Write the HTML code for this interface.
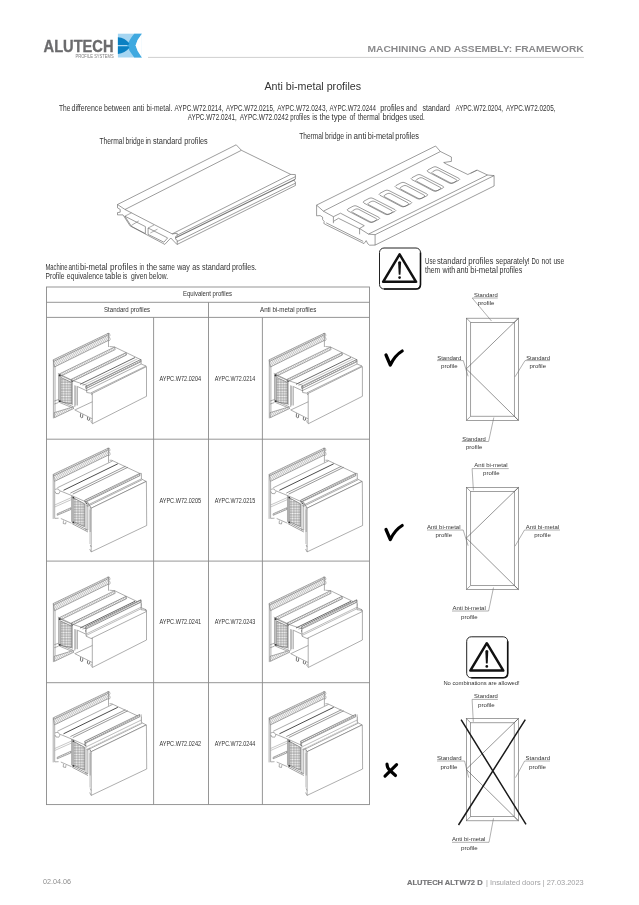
<!DOCTYPE html>
<html><head><meta charset="utf-8"><style>
html,body{margin:0;padding:0;background:#fff;width:639px;height:905px;overflow:hidden}
svg{position:absolute;left:0;top:0;display:block;will-change:transform}
text{font-family:"Liberation Sans",sans-serif}
.t{fill:#333}
.ln{stroke:#555;stroke-width:0.7;fill:none}
.tb{stroke:#8a8a8a;stroke-width:0.9;fill:none}
.fr{stroke:#6e6e6e;stroke-width:0.65;fill:none}
.ld{stroke:#707070;stroke-width:0.55;fill:none}
</style></head><body>
<svg width="639" height="905" viewBox="0 0 639 905">
<defs>
<pattern id="hatch" patternUnits="userSpaceOnUse" width="1.6" height="6" patternTransform="rotate(28)">
  <rect width="1.6" height="6" fill="#f8f8f8"/>
  <line x1="0.4" y1="0" x2="0.4" y2="6" stroke="#a8a8a8" stroke-width="0.6"/>
</pattern>
<pattern id="hatch3" patternUnits="userSpaceOnUse" width="1.3" height="4" patternTransform="rotate(28)">
  <rect width="1.3" height="4" fill="#f4f4f4"/>
  <line x1="0.3" y1="0" x2="0.3" y2="4" stroke="#8a8a8a" stroke-width="0.6"/>
</pattern>
<pattern id="perf" patternUnits="userSpaceOnUse" width="2.6" height="2.6">
  <rect width="2.6" height="2.6" fill="#ababab"/>
  <circle cx="1.3" cy="1.3" r="0.95" fill="#f8f8f8"/>
</pattern>












</defs>

<!-- HEADER -->
<text x="43.6" y="52" font-size="16.9" font-weight="bold" fill="#6b6b6d" stroke="#6b6b6d" stroke-width="0.35" textLength="69.9" lengthAdjust="spacingAndGlyphs">ALUTECH</text>
<text x="75.5" y="57.7" font-size="4.5" fill="#7a7a7c" textLength="38.2" lengthAdjust="spacingAndGlyphs">PROFILE SYSTEMS</text>
<g>
  <rect x="117.9" y="33.7" width="24" height="23.8" fill="#a6d6f2"/>
  <path d="M141.9,33.7 L134.2,33.7 Q129,40 127.2,45.6 Q129,51.5 134.2,57.5 L141.9,57.5 Q137,51.5 135.6,45.6 Q137,39.5 141.9,33.7 Z" fill="#3fa9e0"/>
  <path d="M141.9,33.7 L141.9,57.5 Q137,51.5 135.6,45.6 Q137,39.5 141.9,33.7 Z" fill="#fff"/>
  <path d="M117.9,37.3 Q125,37.8 129.4,43.5 L128.3,44.9 L117.9,44.9 Z" fill="#0a80c2"/>
  <path d="M117.9,46.3 L128.3,46.3 L129.4,47.7 Q125,53.3 117.9,53.9 Z" fill="#0a80c2"/>
</g>
<text x="367.5" y="52.4" font-size="9.7" font-weight="bold" fill="#8a8a8c" textLength="216.2" lengthAdjust="spacingAndGlyphs">MACHINING AND ASSEMBLY: FRAMEWORK</text>
<line x1="148" y1="57.4" x2="584" y2="57.4" stroke="#cfcfcf" stroke-width="1"/>

<!-- TITLE & INTRO -->
<text class="t" x="264.4" y="89.6" font-size="11.2" textLength="96.7" lengthAdjust="spacingAndGlyphs">Anti bi-metal profiles</text>
<g class="t" font-size="9.1">
<text x="59.0" y="110.6" textLength="11.4" lengthAdjust="spacingAndGlyphs">The</text>
<text x="71.5" y="110.6" textLength="30.8" lengthAdjust="spacingAndGlyphs">difference</text>
<text x="104.0" y="110.6" textLength="26.5" lengthAdjust="spacingAndGlyphs">between</text>
<text x="132.7" y="110.6" textLength="11.5" lengthAdjust="spacingAndGlyphs">anti</text>
<text x="146.5" y="110.6" textLength="25.8" lengthAdjust="spacingAndGlyphs">bi-metal.</text>
<text x="174.6" y="110.6" textLength="49.0" lengthAdjust="spacingAndGlyphs">AYPC.W72.0214,</text>
<text x="225.9" y="110.6" textLength="48.9" lengthAdjust="spacingAndGlyphs">AYPC.W72.0215,</text>
<text x="277.2" y="110.6" textLength="50.1" lengthAdjust="spacingAndGlyphs">AYPC.W72.0243,</text>
<text x="329.6" y="110.6" textLength="46.4" lengthAdjust="spacingAndGlyphs">AYPC.W72.0244</text>
<text x="380.2" y="110.6" textLength="24.0" lengthAdjust="spacingAndGlyphs">profiles</text>
<text x="405.9" y="110.6" textLength="11.0" lengthAdjust="spacingAndGlyphs">and</text>
<text x="422.4" y="110.6" textLength="27.6" lengthAdjust="spacingAndGlyphs">standard</text>
<text x="455.5" y="110.6" textLength="47.5" lengthAdjust="spacingAndGlyphs">AYPC.W72.0204,</text>
<text x="505.9" y="110.6" textLength="49.6" lengthAdjust="spacingAndGlyphs">AYPC.W72.0205,</text>
</g>
<g class="t" font-size="9.1">
<text x="187.7" y="120.3" textLength="49.0" lengthAdjust="spacingAndGlyphs">AYPC.W72.0241,</text>
<text x="239.7" y="120.3" textLength="48.9" lengthAdjust="spacingAndGlyphs">AYPC.W72.0242</text>
<text x="290.3" y="120.3" textLength="19.5" lengthAdjust="spacingAndGlyphs">profiles</text>
<text x="312.2" y="120.3" textLength="5.2" lengthAdjust="spacingAndGlyphs">is</text>
<text x="319.6" y="120.3" textLength="10.3" lengthAdjust="spacingAndGlyphs">the</text>
<text x="331.6" y="120.3" textLength="15.1" lengthAdjust="spacingAndGlyphs">type</text>
<text x="349.5" y="120.3" textLength="5.7" lengthAdjust="spacingAndGlyphs">of</text>
<text x="357.9" y="120.3" textLength="21.9" lengthAdjust="spacingAndGlyphs">thermal</text>
<text x="382.6" y="120.3" textLength="24.7" lengthAdjust="spacingAndGlyphs">bridges</text>
<text x="409.3" y="120.3" textLength="15.6" lengthAdjust="spacingAndGlyphs">used.</text>
</g>

<g class="t" font-size="8.5">
<text x="99.4" y="143.8" textLength="24.7" lengthAdjust="spacingAndGlyphs">Thermal</text>
<text x="125.6" y="143.8" textLength="18.7" lengthAdjust="spacingAndGlyphs">bridge</text>
<text x="145.4" y="143.8" textLength="5.5" lengthAdjust="spacingAndGlyphs">in</text>
<text x="153.1" y="143.8" textLength="28.8" lengthAdjust="spacingAndGlyphs">standard</text>
<text x="184.3" y="143.8" textLength="23.4" lengthAdjust="spacingAndGlyphs">profiles</text>
</g>
<g class="t" font-size="8.5">
<text x="299.2" y="139.2" textLength="24.2" lengthAdjust="spacingAndGlyphs">Thermal</text>
<text x="325.1" y="139.2" textLength="19.1" lengthAdjust="spacingAndGlyphs">bridge</text>
<text x="346.0" y="139.2" textLength="5.8" lengthAdjust="spacingAndGlyphs">in</text>
<text x="353.6" y="139.2" textLength="13.0" lengthAdjust="spacingAndGlyphs">anti</text>
<text x="367.8" y="139.2" textLength="26.2" lengthAdjust="spacingAndGlyphs">bi-metal</text>
<text x="395.3" y="139.2" textLength="23.7" lengthAdjust="spacingAndGlyphs">profiles</text>
</g>

<g class="t" font-size="8.2">
<text x="45.5" y="269.7" textLength="22.1" lengthAdjust="spacingAndGlyphs">Machine</text>
<text x="68.6" y="269.7" textLength="10.2" lengthAdjust="spacingAndGlyphs">anti</text>
<text x="79.9" y="269.7" textLength="27.7" lengthAdjust="spacingAndGlyphs">bi-metal</text>
<text x="109.9" y="269.7" textLength="27.4" lengthAdjust="spacing">profiles</text>
<text x="139.6" y="269.7" textLength="4.6" lengthAdjust="spacingAndGlyphs">in</text>
<text x="146.5" y="269.7" textLength="10.8" lengthAdjust="spacingAndGlyphs">the</text>
<text x="159.0" y="269.7" textLength="15.8" lengthAdjust="spacingAndGlyphs">same</text>
<text x="177.2" y="269.7" textLength="12.7" lengthAdjust="spacingAndGlyphs">way</text>
<text x="192.2" y="269.7" textLength="7.6" lengthAdjust="spacingAndGlyphs">as</text>
<text x="202.1" y="269.7" textLength="28.3" lengthAdjust="spacingAndGlyphs">standard</text>
<text x="232.1" y="269.7" textLength="24.6" lengthAdjust="spacingAndGlyphs">profiles.</text>
</g>
<g class="t" font-size="8.2">
<text x="45.5" y="279.4" textLength="18.9" lengthAdjust="spacingAndGlyphs">Profile</text>
<text x="66.8" y="279.4" textLength="36.4" lengthAdjust="spacingAndGlyphs">equivalence</text>
<text x="104.9" y="279.4" textLength="16.5" lengthAdjust="spacingAndGlyphs">table</text>
<text x="122.7" y="279.4" textLength="4.6" lengthAdjust="spacingAndGlyphs">is</text>
<text x="130.9" y="279.4" textLength="16.4" lengthAdjust="spacingAndGlyphs">given</text>
<text x="149.0" y="279.4" textLength="19.0" lengthAdjust="spacingAndGlyphs">below.</text>
</g>


<!-- THERMAL BRIDGE: standard -->
<g fill="none" stroke="#5a5a5a" stroke-width="0.6" stroke-linejoin="round">
 <path d="M117.5,204.5 L117.5,207.8 L120.2,209.4 L120.2,212.2 L117.5,212.6 L117.5,214.9 L123,214.9 L130.1,225.9 L164.8,244.4 L170.8,238 L176.9,244.4 L177.2,244.4 L177.2,240.2 L175.6,239.2 L175.6,236.6 L177.2,235.5 L177.2,233.3 L172.2,233.9 L125,209.5 Z"/>
 <path d="M124.8,216.2 L145.4,226.6 L145.4,233.6 L131.4,226.3 Z"/>
 <path d="M148.1,228 L167.6,237.9 L163.9,242.2 L148.1,234.4 Z"/>
 <path d="M131.4,225.4 L138.8,220.9 M150.3,233 L157.5,229.1 M124.8,216.2 L131.5,212.8 M148.1,228 L154,225" stroke-width="0.5"/>
 <path d="M117.5,204.5 L236.2,144.8 L241.4,150.3 L290.7,174.4 L295.4,174.6 L295.4,179.1 L293.7,180.3 L295.4,182 L295.4,185.5"/>
 <path d="M125,209.5 L241.4,150.3"/>
 <path d="M172.2,233.9 L290.7,174.4"/>
 <path d="M177.2,235.2 L295.4,176.7 M177.2,241.5 L295.4,183.2 M177.2,244.4 L295.4,185.5"/>
 <path d="M175.6,237.8 L295,179.4" stroke-width="1.1" stroke="#777"/>
</g>
<!-- THERMAL BRIDGE: anti bi-metal -->
<g fill="none" stroke="#5a5a5a" stroke-width="0.6" stroke-linejoin="round">
 <path d="M316.6,205.1 L435.6,146 L440.4,151.5 L451.4,157 L451.4,161.4 L443.7,162.5 L446.4,164.1 L467.8,174.5 L477.1,170.1 L487.5,175 L494.1,175.6 L494.1,186"/>
 <path d="M323.4,211.2 L440.4,151.5"/>
 <path d="M316.6,205.1 L323.4,211.2 L333.4,216.7 L333.4,221.4 M333.4,216.7 L340.5,213.2 L364.3,225.7 L359.6,228.5 L359.6,234.3 M333.4,221.4 L338.5,218.3 L359.6,228.8"/>
 <path d="M316.6,205.1 L316.6,215.8 L320.2,215.6 L322.6,217.2 L322.6,219.5 L324.2,221.5 L323.8,223.4 L326.2,224.8 L364,243.6 L366.2,240.6 L367.8,243.8 L369.6,245.2 L375.1,245.1 L375.1,234.7 L368.5,234.1 L359.6,228.5"/>
 <path d="M326.2,222.8 L363.2,241.4 M333.4,221.4 L333.4,223.2"/>
 <path d="M368.5,234.1 L487.5,175 M375.1,234.7 L494.1,175.6 M375.1,245.1 L494.1,186"/>
 <path d="M477.1,170.1 L470.5,173.4" stroke-width="0.5"/>
 <path d="M348.0,208.9 L353.1,206.2 Q355.0,205.2 357.0,206.2 L378.8,217.3 Q380.8,218.3 378.8,219.3 L373.0,222.0 Q371.0,223.0 369.1,222.0 L348.0,210.9 Q346.1,209.9 348.0,208.9 Z"/>
 <path d="M352.7,210.7 L355.2,209.3 Q357.0,208.4 358.7,209.3 L376.1,218.5 Q377.9,219.4 376.1,220.3 L373.6,221.7 Q371.8,222.6 370.1,221.7 L352.7,212.5 Q350.9,211.6 352.7,210.7 Z"/>
 <path d="M364.0,201.1 L369.1,198.4 Q371.0,197.4 373.0,198.4 L394.8,209.5 Q396.8,210.5 394.8,211.5 L389.0,214.2 Q387.0,215.2 385.1,214.2 L364.0,203.1 Q362.1,202.1 364.0,201.1 Z"/>
 <path d="M368.7,202.9 L371.2,201.5 Q373.0,200.6 374.7,201.5 L392.1,210.7 Q393.9,211.6 392.1,212.5 L389.6,213.9 Q387.8,214.8 386.1,213.9 L368.7,204.7 Q366.9,203.8 368.7,202.9 Z"/>
 <path d="M380.0,193.3 L385.1,190.6 Q387.0,189.6 389.0,190.6 L410.8,201.7 Q412.8,202.7 410.8,203.7 L405.0,206.4 Q403.0,207.4 401.1,206.4 L380.0,195.3 Q378.1,194.3 380.0,193.3 Z"/>
 <path d="M384.7,195.1 L387.2,193.7 Q389.0,192.8 390.7,193.7 L408.1,202.9 Q409.9,203.8 408.1,204.7 L405.6,206.1 Q403.8,207.0 402.1,206.1 L384.7,196.9 Q382.9,196.0 384.7,195.1 Z"/>
 <path d="M396.0,185.5 L401.1,182.8 Q403.0,181.8 405.0,182.8 L426.8,193.9 Q428.8,194.9 426.8,195.9 L421.0,198.6 Q419.0,199.6 417.1,198.6 L396.0,187.5 Q394.1,186.5 396.0,185.5 Z"/>
 <path d="M400.7,187.3 L403.2,185.9 Q405.0,185.0 406.7,185.9 L424.1,195.1 Q425.9,196.0 424.1,196.9 L421.6,198.3 Q419.8,199.2 418.1,198.3 L400.7,189.1 Q398.9,188.2 400.7,187.3 Z"/>
 <path d="M412.0,177.7 L417.1,175.0 Q419.0,174.0 421.0,175.0 L442.8,186.1 Q444.8,187.1 442.8,188.1 L437.0,190.8 Q435.0,191.8 433.1,190.8 L412.0,179.7 Q410.1,178.7 412.0,177.7 Z"/>
 <path d="M416.7,179.5 L419.2,178.1 Q421.0,177.2 422.7,178.1 L440.1,187.3 Q441.9,188.2 440.1,189.1 L437.6,190.5 Q435.8,191.4 434.1,190.5 L416.7,181.3 Q414.9,180.4 416.7,179.5 Z"/>
 <path d="M428.0,169.9 L433.1,167.2 Q435.0,166.2 437.0,167.2 L458.8,178.3 Q460.8,179.3 458.8,180.3 L453.0,183.0 Q451.0,184.0 449.1,183.0 L428.0,171.9 Q426.1,170.9 428.0,169.9 Z"/>
 <path d="M432.7,171.7 L435.2,170.3 Q437.0,169.4 438.7,170.3 L456.1,179.5 Q457.9,180.4 456.1,181.3 L453.6,182.7 Q451.8,183.6 450.1,182.7 L432.7,173.5 Q430.9,172.6 432.7,171.7 Z"/>
</g>
<!-- WARNING 1 -->
<g transform="translate(379,247.5)">
  <rect x="0.5" y="0.5" width="41" height="41" rx="4.5" fill="#fff" stroke="#222" stroke-width="1"/>
  <path d="M41.5,5 L41.5,37 Q41.5,41.5 37,41.5 L5,41.5" fill="none" stroke="#111" stroke-width="1.6"/>
  <path d="M20.6,6.9 L37.1,34.3 L4.1,34.3 Z" fill="none" stroke="#111" stroke-width="2.5" stroke-linejoin="round"/>
  <path d="M19.1,14.6 Q20.6,12.9 22.1,14.6 L21.5,26.9 Q20.6,27.6 19.7,26.9 Z" fill="#111"/>
  <circle cx="20.6" cy="30.1" r="1.35" fill="#111"/>
</g>
<g class="t" font-size="8.8">
<text x="425.1" y="263.8" textLength="10.8" lengthAdjust="spacingAndGlyphs">Use</text>
<text x="437.0" y="263.8" textLength="29.6" lengthAdjust="spacingAndGlyphs">standard</text>
<text x="468.3" y="263.8" textLength="25.2" lengthAdjust="spacingAndGlyphs">profiles</text>
<text x="495.8" y="263.8" textLength="34.0" lengthAdjust="spacingAndGlyphs">separately!</text>
<text x="531.5" y="263.8" textLength="7.7" lengthAdjust="spacingAndGlyphs">Do</text>
<text x="541.5" y="263.8" textLength="9.6" lengthAdjust="spacingAndGlyphs">not</text>
<text x="553.4" y="263.8" textLength="10.8" lengthAdjust="spacingAndGlyphs">use</text>
</g>
<g class="t" font-size="8.8">
<text x="425.1" y="273.3" textLength="15.2" lengthAdjust="spacingAndGlyphs">them</text>
<text x="442.6" y="273.3" textLength="12.7" lengthAdjust="spacingAndGlyphs">with</text>
<text x="456.4" y="273.3" textLength="12.1" lengthAdjust="spacingAndGlyphs">anti</text>
<text x="470.2" y="273.3" textLength="27.7" lengthAdjust="spacingAndGlyphs">bi-metal</text>
<text x="499.6" y="273.3" textLength="22.7" lengthAdjust="spacingAndGlyphs">profiles</text>
</g>

<!-- TABLE -->
<g class="tb">
  <rect x="46.5" y="287" width="323" height="517.6"/>
  <line x1="46.5" y1="302.3" x2="369.5" y2="302.3"/>
  <line x1="46.5" y1="317.4" x2="369.5" y2="317.4"/>
  <line x1="46.5" y1="439.2" x2="369.5" y2="439.2"/>
  <line x1="46.5" y1="561.1" x2="369.5" y2="561.1"/>
  <line x1="46.5" y1="682.7" x2="369.5" y2="682.7"/>
  <line x1="208.5" y1="302.3" x2="208.5" y2="804.6"/>
  <line x1="153.6" y1="317.4" x2="153.6" y2="804.6"/>
  <line x1="262.4" y1="317.4" x2="262.4" y2="804.6"/>
</g>
<text class="t" x="182.9" y="296.4" font-size="6.8" textLength="49.1" lengthAdjust="spacingAndGlyphs">Equivalent profiles</text>
<text class="t" x="104" y="311.5" font-size="7.4" textLength="46.1" lengthAdjust="spacingAndGlyphs">Standard profiles</text>
<text class="t" x="260" y="311.7" font-size="7.4" textLength="56.3" lengthAdjust="spacingAndGlyphs">Anti bi-metal profiles</text>

<g class="t" font-size="7.1">
<text x="159.4" y="380.6" textLength="41.7" lengthAdjust="spacingAndGlyphs">AYPC.W72.0204</text>
<text x="214.8" y="380.6" textLength="40.4" lengthAdjust="spacingAndGlyphs">AYPC.W72.0214</text>
<text x="159.4" y="502.6" textLength="41.7" lengthAdjust="spacingAndGlyphs">AYPC.W72.0205</text>
<text x="214.8" y="502.6" textLength="40.4" lengthAdjust="spacingAndGlyphs">AYPC.W72.0215</text>
<text x="159.4" y="624.2" textLength="41.7" lengthAdjust="spacingAndGlyphs">AYPC.W72.0241</text>
<text x="214.8" y="624.2" textLength="40.4" lengthAdjust="spacingAndGlyphs">AYPC.W72.0243</text>
<text x="159.4" y="746.1" textLength="41.7" lengthAdjust="spacingAndGlyphs">AYPC.W72.0242</text>
<text x="214.8" y="746.1" textLength="40.4" lengthAdjust="spacingAndGlyphs">AYPC.W72.0244</text>
</g>



<!-- PROFILE IMAGES -->
<g transform="translate(0,0)" fill="none" stroke="#6a6a6a" stroke-width="0.55" stroke-linejoin="round">
 <!-- back wall -->
 <path d="M53.4,359.8 L53.4,418.4 M55,366 L55,417.5"/>
 <!-- fin band -->
 <path d="M53.2,359.8 L108.5,333.2 L108.5,340.4 L54.5,367 Z" fill="url(#hatch)"/>
 <path d="M53.6,361.4 L108.5,334.8"/>
 <path d="M108.5,340.4 L108.5,347"/>
 <path d="M107.3,333.5 Q110.2,332.6 110,335.2 Q109.8,336.5 108.7,336.9 Q110.4,337.5 110.1,339.5 Q109.8,341 108.4,340.8" stroke="#777"/>
 <!-- top surface -->
 <path d="M109.5,346.5 L114.6,347 L140.6,359.5 L141.1,359.5 L141.1,364 L146.1,366"/>
 <path d="M114.6,347 L59.6,373.8 L60.2,376.4 L115.2,349.6 Z" fill="url(#hatch)"/>
 <path d="M126.1,352.6 L71.1,379.4 L71.5,381.8 L126.5,355 Z" fill="url(#hatch)" stroke="#555"/>
 <path d="M135.1,357.5 L80.1,384.3" stroke="#444" stroke-width="0.8"/>
 <path d="M137.5,358.8 L82.5,385.6" stroke="#888" stroke-width="0.5"/>
 <path d="M140.6,359.5 L85.6,386.3 L85.9,388.6 L140.9,361.8 Z" fill="url(#hatch3)" stroke="#555"/>
 <path d="M141.1,364 L86.1,390.8 M146.1,366 L91.1,392.8 M146.1,368 L91.1,394.8"/>
 <!-- front face -->
 <path d="M92.3,393.4 L146.5,366.6 L146.5,396.3 L92.3,423.8 Z" fill="#fff"/>
 <!-- near end -->
 <path d="M57.9,373.4 L73.8,381 L86.7,385.3 L86.7,392.5 L92.3,393.4"/>
 <path d="M58.6,374.6 L72.3,380.8"/>
 <path d="M60.8,377.4 L71.6,382.4 L71.6,404 L60.8,401.8 Z" fill="url(#perf)" stroke="#555"/>
 <path d="M58.6,374.5 L58.6,401.8 M59.8,375 L59.8,401.5 M72.3,381 L72.3,405 M74.8,385.3 L74.8,406.9 M75.9,385.8 L75.9,405.5 M77.4,386.5 L77.4,405.5"/>
 <path d="M59.4,400.8 L73.8,406.9 M59.4,402.4 L73.8,408.4"/>
 <path d="M54.3,412.6 L73,406.9 L73.6,408.6 L54.3,417.7 Z" fill="url(#hatch)"/>
 <path d="M74.5,409.8 L92.3,418.8"/>
 <path d="M80.6,413.4 L80.4,416.9 Q81.4,418.2 82.6,417.4 L82.8,414.5 M87.6,416.9 L87.4,419.6 Q88.4,420.8 89.6,420 L89.8,418" stroke="#555" stroke-width="0.8"/>
 <path d="M91.2,420.2 Q90.6,422 91.6,422.8" stroke="#666"/>
 <path d="M75.2,409.8 L92.3,401.8"/>
 <path d="M77.4,386.5 L86.7,390.8"/>
 <path d="M54.3,401 L58.6,399.5 M54.3,404 L58.6,402.5"/>
 <circle cx="59.6" cy="375.4" r="0.9" fill="#333" stroke="none"/>
 <circle cx="59.8" cy="401.2" r="0.9" fill="#333" stroke="none"/>
 <circle cx="72.2" cy="381.4" r="0.6" fill="#555" stroke="none"/>
</g>
<g transform="translate(215.9,0)" fill="none" stroke="#6a6a6a" stroke-width="0.55" stroke-linejoin="round">
 <!-- back wall -->
 <path d="M53.4,359.8 L53.4,418.4 M55,366 L55,417.5"/>
 <!-- fin band -->
 <path d="M53.2,359.8 L108.5,333.2 L108.5,340.4 L54.5,367 Z" fill="url(#hatch)"/>
 <path d="M53.6,361.4 L108.5,334.8"/>
 <path d="M108.5,340.4 L108.5,347"/>
 <path d="M107.3,333.5 Q110.2,332.6 110,335.2 Q109.8,336.5 108.7,336.9 Q110.4,337.5 110.1,339.5 Q109.8,341 108.4,340.8" stroke="#777"/>
 <!-- top surface -->
 <path d="M109.5,346.5 L114.6,347 L140.6,359.5 L141.1,359.5 L141.1,364 L146.1,366"/>
 <path d="M114.6,347 L59.6,373.8 L60.2,376.4 L115.2,349.6 Z" fill="url(#hatch)"/>
 <path d="M126.1,352.6 L71.1,379.4 L71.5,381.8 L126.5,355 Z" fill="url(#hatch)" stroke="#555"/>
 <path d="M135.1,357.5 L80.1,384.3" stroke="#444" stroke-width="0.8"/>
 <path d="M137.5,358.8 L82.5,385.6" stroke="#888" stroke-width="0.5"/>
 <path d="M140.6,359.5 L85.6,386.3 L85.9,388.6 L140.9,361.8 Z" fill="url(#hatch3)" stroke="#555"/>
 <path d="M141.1,364 L86.1,390.8 M146.1,366 L91.1,392.8 M146.1,368 L91.1,394.8"/>
 <!-- front face -->
 <path d="M92.3,393.4 L146.5,366.6 L146.5,396.3 L92.3,423.8 Z" fill="#fff"/>
 <!-- near end -->
 <path d="M57.9,373.4 L73.8,381 L86.7,385.3 L86.7,392.5 L92.3,393.4"/>
 <path d="M58.6,374.6 L72.3,380.8"/>
 <path d="M60.8,377.4 L71.6,382.4 L71.6,404 L60.8,401.8 Z" fill="url(#perf)" stroke="#555"/>
 <path d="M58.6,374.5 L58.6,401.8 M59.8,375 L59.8,401.5 M72.3,381 L72.3,405 M74.8,385.3 L74.8,406.9 M75.9,385.8 L75.9,405.5 M77.4,386.5 L77.4,405.5"/>
 <path d="M59.4,400.8 L73.8,406.9 M59.4,402.4 L73.8,408.4"/>
 <path d="M54.3,412.6 L73,406.9 L73.6,408.6 L54.3,417.7 Z" fill="url(#hatch)"/>
 <path d="M74.5,409.8 L92.3,418.8"/>
 <path d="M80.6,413.4 L80.4,416.9 Q81.4,418.2 82.6,417.4 L82.8,414.5 M87.6,416.9 L87.4,419.6 Q88.4,420.8 89.6,420 L89.8,418" stroke="#555" stroke-width="0.8"/>
 <path d="M91.2,420.2 Q90.6,422 91.6,422.8" stroke="#666"/>
 <path d="M75.2,409.8 L92.3,401.8"/>
 <path d="M77.4,386.5 L86.7,390.8"/>
 <path d="M54.3,401 L58.6,399.5 M54.3,404 L58.6,402.5"/>
 <circle cx="59.6" cy="375.4" r="0.9" fill="#333" stroke="none"/>
 <circle cx="59.8" cy="401.2" r="0.9" fill="#333" stroke="none"/>
 <circle cx="72.2" cy="381.4" r="0.6" fill="#555" stroke="none"/>
</g>
<g transform="translate(0,243.7)" fill="none" stroke="#6a6a6a" stroke-width="0.55" stroke-linejoin="round">
 <!-- back wall -->
 <path d="M53.4,359.8 L53.4,418.4 M55,366 L55,417.5"/>
 <!-- fin band -->
 <path d="M53.2,359.8 L108.5,333.2 L108.5,340.4 L54.5,367 Z" fill="url(#hatch)"/>
 <path d="M53.6,361.4 L108.5,334.8"/>
 <path d="M108.5,340.4 L108.5,347"/>
 <path d="M107.3,333.5 Q110.2,332.6 110,335.2 Q109.8,336.5 108.7,336.9 Q110.4,337.5 110.1,339.5 Q109.8,341 108.4,340.8" stroke="#777"/>
 <!-- top surface -->
 <path d="M109.5,346.5 L114.6,347 L140.6,359.5 L141.1,359.5 L141.1,364 L146.1,366"/>
 <path d="M114.6,347 L59.6,373.8 L60.2,376.4 L115.2,349.6 Z" fill="url(#hatch)"/>
 <path d="M126.1,352.6 L71.1,379.4 L71.5,381.8 L126.5,355 Z" fill="url(#hatch)" stroke="#555"/>
 <path d="M135.1,357.5 L80.1,384.3" stroke="#444" stroke-width="0.8"/>
 <path d="M137.5,358.8 L82.5,385.6" stroke="#888" stroke-width="0.5"/>
 <path d="M140.6,359.5 L85.6,386.3 L85.9,388.6 L140.9,361.8 Z" fill="url(#hatch3)" stroke="#555"/>
 <path d="M141.1,364 L86.1,390.8 M146.1,366 L91.1,392.8 M146.1,368 L91.1,394.8"/>
 <!-- front face -->
 <path d="M92.3,393.4 L146.5,366.6 L146.5,396.3 L92.3,423.8 Z" fill="#fff"/>
 <!-- near end -->
 <path d="M57.9,373.4 L73.8,381 L86.7,385.3 L86.7,392.5 L92.3,393.4"/>
 <path d="M58.6,374.6 L72.3,380.8"/>
 <path d="M60.8,377.4 L71.6,382.4 L71.6,404 L60.8,401.8 Z" fill="url(#perf)" stroke="#555"/>
 <path d="M58.6,374.5 L58.6,401.8 M59.8,375 L59.8,401.5 M72.3,381 L72.3,405 M74.8,385.3 L74.8,406.9 M75.9,385.8 L75.9,405.5 M77.4,386.5 L77.4,405.5"/>
 <path d="M59.4,400.8 L73.8,406.9 M59.4,402.4 L73.8,408.4"/>
 <path d="M54.3,412.6 L73,406.9 L73.6,408.6 L54.3,417.7 Z" fill="url(#hatch)"/>
 <path d="M74.5,409.8 L92.3,418.8"/>
 <path d="M80.6,413.4 L80.4,416.9 Q81.4,418.2 82.6,417.4 L82.8,414.5 M87.6,416.9 L87.4,419.6 Q88.4,420.8 89.6,420 L89.8,418" stroke="#555" stroke-width="0.8"/>
 <path d="M91.2,420.2 Q90.6,422 91.6,422.8" stroke="#666"/>
 <path d="M75.2,409.8 L92.3,401.8"/>
 <path d="M77.4,386.5 L86.7,390.8"/>
 <path d="M54.3,401 L58.6,399.5 M54.3,404 L58.6,402.5"/>
 <circle cx="59.6" cy="375.4" r="0.9" fill="#333" stroke="none"/>
 <circle cx="59.8" cy="401.2" r="0.9" fill="#333" stroke="none"/>
 <circle cx="72.2" cy="381.4" r="0.6" fill="#555" stroke="none"/>
</g>
<g transform="translate(215.9,243.7)" fill="none" stroke="#6a6a6a" stroke-width="0.55" stroke-linejoin="round">
 <!-- back wall -->
 <path d="M53.4,359.8 L53.4,418.4 M55,366 L55,417.5"/>
 <!-- fin band -->
 <path d="M53.2,359.8 L108.5,333.2 L108.5,340.4 L54.5,367 Z" fill="url(#hatch)"/>
 <path d="M53.6,361.4 L108.5,334.8"/>
 <path d="M108.5,340.4 L108.5,347"/>
 <path d="M107.3,333.5 Q110.2,332.6 110,335.2 Q109.8,336.5 108.7,336.9 Q110.4,337.5 110.1,339.5 Q109.8,341 108.4,340.8" stroke="#777"/>
 <!-- top surface -->
 <path d="M109.5,346.5 L114.6,347 L140.6,359.5 L141.1,359.5 L141.1,364 L146.1,366"/>
 <path d="M114.6,347 L59.6,373.8 L60.2,376.4 L115.2,349.6 Z" fill="url(#hatch)"/>
 <path d="M126.1,352.6 L71.1,379.4 L71.5,381.8 L126.5,355 Z" fill="url(#hatch)" stroke="#555"/>
 <path d="M135.1,357.5 L80.1,384.3" stroke="#444" stroke-width="0.8"/>
 <path d="M137.5,358.8 L82.5,385.6" stroke="#888" stroke-width="0.5"/>
 <path d="M140.6,359.5 L85.6,386.3 L85.9,388.6 L140.9,361.8 Z" fill="url(#hatch3)" stroke="#555"/>
 <path d="M141.1,364 L86.1,390.8 M146.1,366 L91.1,392.8 M146.1,368 L91.1,394.8"/>
 <!-- front face -->
 <path d="M92.3,393.4 L146.5,366.6 L146.5,396.3 L92.3,423.8 Z" fill="#fff"/>
 <!-- near end -->
 <path d="M57.9,373.4 L73.8,381 L86.7,385.3 L86.7,392.5 L92.3,393.4"/>
 <path d="M58.6,374.6 L72.3,380.8"/>
 <path d="M60.8,377.4 L71.6,382.4 L71.6,404 L60.8,401.8 Z" fill="url(#perf)" stroke="#555"/>
 <path d="M58.6,374.5 L58.6,401.8 M59.8,375 L59.8,401.5 M72.3,381 L72.3,405 M74.8,385.3 L74.8,406.9 M75.9,385.8 L75.9,405.5 M77.4,386.5 L77.4,405.5"/>
 <path d="M59.4,400.8 L73.8,406.9 M59.4,402.4 L73.8,408.4"/>
 <path d="M54.3,412.6 L73,406.9 L73.6,408.6 L54.3,417.7 Z" fill="url(#hatch)"/>
 <path d="M74.5,409.8 L92.3,418.8"/>
 <path d="M80.6,413.4 L80.4,416.9 Q81.4,418.2 82.6,417.4 L82.8,414.5 M87.6,416.9 L87.4,419.6 Q88.4,420.8 89.6,420 L89.8,418" stroke="#555" stroke-width="0.8"/>
 <path d="M91.2,420.2 Q90.6,422 91.6,422.8" stroke="#666"/>
 <path d="M75.2,409.8 L92.3,401.8"/>
 <path d="M77.4,386.5 L86.7,390.8"/>
 <path d="M54.3,401 L58.6,399.5 M54.3,404 L58.6,402.5"/>
 <circle cx="59.6" cy="375.4" r="0.9" fill="#333" stroke="none"/>
 <circle cx="59.8" cy="401.2" r="0.9" fill="#333" stroke="none"/>
 <circle cx="72.2" cy="381.4" r="0.6" fill="#555" stroke="none"/>
</g>
<g transform="translate(0,243.7)" fill="none" stroke="#6a6a6a" stroke-width="0.55" stroke-linejoin="round">
 <path d="M141.1,356.2 L141.1,366 L146.1,366.6 L146.1,368 L91.1,394.8 L86.1,392.5 L86.1,383 Z" fill="#fff"/>
 <path d="M140.6,356.2 L85.6,383 L85.9,385.3 L140.9,358.5 Z" fill="url(#hatch3)" stroke="#555"/>
 <path d="M141.1,363.5 L86.1,390.3 M141.1,365 L86.1,391.8" stroke="#888"/>
</g>
<g transform="translate(215.9,243.7)" fill="none" stroke="#6a6a6a" stroke-width="0.55" stroke-linejoin="round">
 <path d="M141.1,356.2 L141.1,366 L146.1,366.6 L146.1,368 L91.1,394.8 L86.1,392.5 L86.1,383 Z" fill="#fff"/>
 <path d="M140.6,356.2 L85.6,383 L85.9,385.3 L140.9,358.5 Z" fill="url(#hatch3)" stroke="#555"/>
 <path d="M141.1,363.5 L86.1,390.3 M141.1,365 L86.1,391.8" stroke="#888"/>
</g>
<g transform="translate(0,0)" fill="none" stroke="#6a6a6a" stroke-width="0.55" stroke-linejoin="round">
 <!-- back wall -->
 <path d="M53.2,474.2 L53.2,518.9 M54.7,481.4 L54.7,518.4 L58.6,518.2"/>
 <!-- fin band -->
 <path d="M53.4,474.2 L108.5,448 L108.5,455 L54.5,481.4 Z" fill="url(#hatch)"/>
 <path d="M53.6,475.9 L108.5,449.7"/>
 <path d="M108.5,455 L108.5,462.4"/>
 <path d="M107.3,448.3 Q110.2,447.4 110,450 Q109.8,451.3 108.7,451.7 Q110.4,452.3 110.1,454.3 Q109.8,455.8 108.4,455.6" stroke="#777"/>
 <!-- top surface far edge -->
 <path d="M109.5,460.2 L111.8,460.3 L139.7,473.4 L141.4,473.4 L141.4,478.9 L146.1,481.4"/>
 <path d="M112.6,460.9 L57.3,487.8" stroke="#666"/>
 <path d="M117.8,463.8 L63.5,490.3" stroke="#383838" stroke-width="0.9"/>
 <path d="M125.4,466.3 L70.4,493.1 M127.8,467.3 L72.8,494.1" stroke="#555" stroke-width="0.6"/>
 <path d="M139.7,473.4 L84.7,500.2 L85,502.4 L140,475.6 Z" fill="url(#hatch3)" stroke="#555"/>
 <path d="M141.4,478.9 L86.4,505.7 M142.3,479.7 L87.3,506.5 M146.1,481.4 L91.1,508.2 M146.1,483.4 L91.1,510.2"/>
 <!-- front face -->
 <path d="M91.2,508.2 L146.4,481.4 L146.7,525.5 L91.2,551.9 Z" fill="#fff"/>
 <!-- near end -->
 <path d="M55,489.4 Q57,488.5 58.5,489.2 L60,491.5 L58.8,493.7 L56,493.5 L55,491.5"/>
 <path d="M60.1,490.8 L71.6,495.5 L85.3,501.6 L87.8,502.4 L91.2,508.2"/>
 <path d="M73.8,498 L84.6,503.8 L84.6,526.8 L73.8,521.8 Z" fill="url(#perf)" stroke="#555"/>
 <path d="M71.6,495.5 L71.6,521.8 M72.6,496 L72.6,522.3 M86,502 L86,530.4 M87.8,502.6 L87.8,530 M90.2,506.5 L90.2,532"/>
 <path d="M72.3,522.2 L88,530.4 M72.3,523.8 L88,532" stroke="#555"/>
 <path d="M57.2,513.8 L70.9,507.7 L70.9,509.5 L57.2,515.3 Z" fill="url(#hatch)"/>
 <path d="M60.8,518.5 L71.6,523.2 M63.5,520.5 L63.2,523.5 L65.6,524 L66,521.6"/>
 <path d="M54.7,505 L71.6,497.5 M54.7,507 L71.6,499.5" stroke="#999"/>
 <path d="M90.2,545 L91.2,547 M89.6,549 L91.2,551.9" stroke="#777"/>
 <path d="M89.9,509.5 L89.9,544" stroke="#999" stroke-width="0.5"/>
 <circle cx="73.4" cy="497.6" r="0.9" fill="#333" stroke="none"/>
 <circle cx="73.4" cy="522.4" r="0.9" fill="#333" stroke="none"/>
 <circle cx="86.6" cy="503.4" r="0.6" fill="#555" stroke="none"/>
</g>
<g transform="translate(215.9,0)" fill="none" stroke="#6a6a6a" stroke-width="0.55" stroke-linejoin="round">
 <!-- back wall -->
 <path d="M53.2,474.2 L53.2,518.9 M54.7,481.4 L54.7,518.4 L58.6,518.2"/>
 <!-- fin band -->
 <path d="M53.4,474.2 L108.5,448 L108.5,455 L54.5,481.4 Z" fill="url(#hatch)"/>
 <path d="M53.6,475.9 L108.5,449.7"/>
 <path d="M108.5,455 L108.5,462.4"/>
 <path d="M107.3,448.3 Q110.2,447.4 110,450 Q109.8,451.3 108.7,451.7 Q110.4,452.3 110.1,454.3 Q109.8,455.8 108.4,455.6" stroke="#777"/>
 <!-- top surface far edge -->
 <path d="M109.5,460.2 L111.8,460.3 L139.7,473.4 L141.4,473.4 L141.4,478.9 L146.1,481.4"/>
 <path d="M112.6,460.9 L57.3,487.8" stroke="#666"/>
 <path d="M117.8,463.8 L63.5,490.3" stroke="#383838" stroke-width="0.9"/>
 <path d="M125.4,466.3 L70.4,493.1 M127.8,467.3 L72.8,494.1" stroke="#555" stroke-width="0.6"/>
 <path d="M139.7,473.4 L84.7,500.2 L85,502.4 L140,475.6 Z" fill="url(#hatch3)" stroke="#555"/>
 <path d="M141.4,478.9 L86.4,505.7 M142.3,479.7 L87.3,506.5 M146.1,481.4 L91.1,508.2 M146.1,483.4 L91.1,510.2"/>
 <!-- front face -->
 <path d="M91.2,508.2 L146.4,481.4 L146.7,525.5 L91.2,551.9 Z" fill="#fff"/>
 <!-- near end -->
 <path d="M55,489.4 Q57,488.5 58.5,489.2 L60,491.5 L58.8,493.7 L56,493.5 L55,491.5"/>
 <path d="M60.1,490.8 L71.6,495.5 L85.3,501.6 L87.8,502.4 L91.2,508.2"/>
 <path d="M73.8,498 L84.6,503.8 L84.6,526.8 L73.8,521.8 Z" fill="url(#perf)" stroke="#555"/>
 <path d="M71.6,495.5 L71.6,521.8 M72.6,496 L72.6,522.3 M86,502 L86,530.4 M87.8,502.6 L87.8,530 M90.2,506.5 L90.2,532"/>
 <path d="M72.3,522.2 L88,530.4 M72.3,523.8 L88,532" stroke="#555"/>
 <path d="M57.2,513.8 L70.9,507.7 L70.9,509.5 L57.2,515.3 Z" fill="url(#hatch)"/>
 <path d="M60.8,518.5 L71.6,523.2 M63.5,520.5 L63.2,523.5 L65.6,524 L66,521.6"/>
 <path d="M54.7,505 L71.6,497.5 M54.7,507 L71.6,499.5" stroke="#999"/>
 <path d="M90.2,545 L91.2,547 M89.6,549 L91.2,551.9" stroke="#777"/>
 <path d="M89.9,509.5 L89.9,544" stroke="#999" stroke-width="0.5"/>
 <circle cx="73.4" cy="497.6" r="0.9" fill="#333" stroke="none"/>
 <circle cx="73.4" cy="522.4" r="0.9" fill="#333" stroke="none"/>
 <circle cx="86.6" cy="503.4" r="0.6" fill="#555" stroke="none"/>
</g>
<g transform="translate(0,243.5)" fill="none" stroke="#6a6a6a" stroke-width="0.55" stroke-linejoin="round">
 <!-- back wall -->
 <path d="M53.2,474.2 L53.2,518.9 M54.7,481.4 L54.7,518.4 L58.6,518.2"/>
 <!-- fin band -->
 <path d="M53.4,474.2 L108.5,448 L108.5,455 L54.5,481.4 Z" fill="url(#hatch)"/>
 <path d="M53.6,475.9 L108.5,449.7"/>
 <path d="M108.5,455 L108.5,462.4"/>
 <path d="M107.3,448.3 Q110.2,447.4 110,450 Q109.8,451.3 108.7,451.7 Q110.4,452.3 110.1,454.3 Q109.8,455.8 108.4,455.6" stroke="#777"/>
 <!-- top surface far edge -->
 <path d="M109.5,460.2 L111.8,460.3 L139.7,473.4 L141.4,473.4 L141.4,478.9 L146.1,481.4"/>
 <path d="M112.6,460.9 L57.3,487.8" stroke="#666"/>
 <path d="M117.8,463.8 L63.5,490.3" stroke="#383838" stroke-width="0.9"/>
 <path d="M125.4,466.3 L70.4,493.1 M127.8,467.3 L72.8,494.1" stroke="#555" stroke-width="0.6"/>
 <path d="M139.7,473.4 L84.7,500.2 L85,502.4 L140,475.6 Z" fill="url(#hatch3)" stroke="#555"/>
 <path d="M141.4,478.9 L86.4,505.7 M142.3,479.7 L87.3,506.5 M146.1,481.4 L91.1,508.2 M146.1,483.4 L91.1,510.2"/>
 <!-- front face -->
 <path d="M91.2,508.2 L146.4,481.4 L146.7,525.5 L91.2,551.9 Z" fill="#fff"/>
 <!-- near end -->
 <path d="M55,489.4 Q57,488.5 58.5,489.2 L60,491.5 L58.8,493.7 L56,493.5 L55,491.5"/>
 <path d="M60.1,490.8 L71.6,495.5 L85.3,501.6 L87.8,502.4 L91.2,508.2"/>
 <path d="M73.8,498 L84.6,503.8 L84.6,526.8 L73.8,521.8 Z" fill="url(#perf)" stroke="#555"/>
 <path d="M71.6,495.5 L71.6,521.8 M72.6,496 L72.6,522.3 M86,502 L86,530.4 M87.8,502.6 L87.8,530 M90.2,506.5 L90.2,532"/>
 <path d="M72.3,522.2 L88,530.4 M72.3,523.8 L88,532" stroke="#555"/>
 <path d="M57.2,513.8 L70.9,507.7 L70.9,509.5 L57.2,515.3 Z" fill="url(#hatch)"/>
 <path d="M60.8,518.5 L71.6,523.2 M63.5,520.5 L63.2,523.5 L65.6,524 L66,521.6"/>
 <path d="M54.7,505 L71.6,497.5 M54.7,507 L71.6,499.5" stroke="#999"/>
 <path d="M90.2,545 L91.2,547 M89.6,549 L91.2,551.9" stroke="#777"/>
 <path d="M89.9,509.5 L89.9,544" stroke="#999" stroke-width="0.5"/>
 <circle cx="73.4" cy="497.6" r="0.9" fill="#333" stroke="none"/>
 <circle cx="73.4" cy="522.4" r="0.9" fill="#333" stroke="none"/>
 <circle cx="86.6" cy="503.4" r="0.6" fill="#555" stroke="none"/>
</g>
<g transform="translate(215.9,243.5)" fill="none" stroke="#6a6a6a" stroke-width="0.55" stroke-linejoin="round">
 <!-- back wall -->
 <path d="M53.2,474.2 L53.2,518.9 M54.7,481.4 L54.7,518.4 L58.6,518.2"/>
 <!-- fin band -->
 <path d="M53.4,474.2 L108.5,448 L108.5,455 L54.5,481.4 Z" fill="url(#hatch)"/>
 <path d="M53.6,475.9 L108.5,449.7"/>
 <path d="M108.5,455 L108.5,462.4"/>
 <path d="M107.3,448.3 Q110.2,447.4 110,450 Q109.8,451.3 108.7,451.7 Q110.4,452.3 110.1,454.3 Q109.8,455.8 108.4,455.6" stroke="#777"/>
 <!-- top surface far edge -->
 <path d="M109.5,460.2 L111.8,460.3 L139.7,473.4 L141.4,473.4 L141.4,478.9 L146.1,481.4"/>
 <path d="M112.6,460.9 L57.3,487.8" stroke="#666"/>
 <path d="M117.8,463.8 L63.5,490.3" stroke="#383838" stroke-width="0.9"/>
 <path d="M125.4,466.3 L70.4,493.1 M127.8,467.3 L72.8,494.1" stroke="#555" stroke-width="0.6"/>
 <path d="M139.7,473.4 L84.7,500.2 L85,502.4 L140,475.6 Z" fill="url(#hatch3)" stroke="#555"/>
 <path d="M141.4,478.9 L86.4,505.7 M142.3,479.7 L87.3,506.5 M146.1,481.4 L91.1,508.2 M146.1,483.4 L91.1,510.2"/>
 <!-- front face -->
 <path d="M91.2,508.2 L146.4,481.4 L146.7,525.5 L91.2,551.9 Z" fill="#fff"/>
 <!-- near end -->
 <path d="M55,489.4 Q57,488.5 58.5,489.2 L60,491.5 L58.8,493.7 L56,493.5 L55,491.5"/>
 <path d="M60.1,490.8 L71.6,495.5 L85.3,501.6 L87.8,502.4 L91.2,508.2"/>
 <path d="M73.8,498 L84.6,503.8 L84.6,526.8 L73.8,521.8 Z" fill="url(#perf)" stroke="#555"/>
 <path d="M71.6,495.5 L71.6,521.8 M72.6,496 L72.6,522.3 M86,502 L86,530.4 M87.8,502.6 L87.8,530 M90.2,506.5 L90.2,532"/>
 <path d="M72.3,522.2 L88,530.4 M72.3,523.8 L88,532" stroke="#555"/>
 <path d="M57.2,513.8 L70.9,507.7 L70.9,509.5 L57.2,515.3 Z" fill="url(#hatch)"/>
 <path d="M60.8,518.5 L71.6,523.2 M63.5,520.5 L63.2,523.5 L65.6,524 L66,521.6"/>
 <path d="M54.7,505 L71.6,497.5 M54.7,507 L71.6,499.5" stroke="#999"/>
 <path d="M90.2,545 L91.2,547 M89.6,549 L91.2,551.9" stroke="#777"/>
 <path d="M89.9,509.5 L89.9,544" stroke="#999" stroke-width="0.5"/>
 <circle cx="73.4" cy="497.6" r="0.9" fill="#333" stroke="none"/>
 <circle cx="73.4" cy="522.4" r="0.9" fill="#333" stroke="none"/>
 <circle cx="86.6" cy="503.4" r="0.6" fill="#555" stroke="none"/>
</g>
<g transform="translate(0,243.5)" fill="none" stroke="#6a6a6a" stroke-width="0.55" stroke-linejoin="round">
 <path d="M141.3,470.9 L141.3,479 L86.3,505.8 L86.3,497.7 Z" fill="#fff" stroke="none"/>
 <path d="M139.7,470.9 L84.7,497.7 L85,499.9 L140,473.1 Z" fill="url(#hatch3)" stroke="#555"/>
 <path d="M141.3,470.9 L141.3,478.9 M141.3,476.5 L86.3,503.3" stroke="#888"/>
</g>
<g transform="translate(215.9,243.5)" fill="none" stroke="#6a6a6a" stroke-width="0.55" stroke-linejoin="round">
 <path d="M141.3,470.9 L141.3,479 L86.3,505.8 L86.3,497.7 Z" fill="#fff" stroke="none"/>
 <path d="M139.7,470.9 L84.7,497.7 L85,499.9 L140,473.1 Z" fill="url(#hatch3)" stroke="#555"/>
 <path d="M141.3,470.9 L141.3,478.9 M141.3,476.5 L86.3,503.3" stroke="#888"/>
</g>

<!-- FRAMES -->

<g transform="translate(466.5,318.2)" class="fr">
  <rect x="0" y="0" width="52" height="102.2"/>
  <rect x="4.2" y="4.2" width="43.6" height="93.8"/>
  <path d="M0,0 L4.2,4.2 M52,0 L47.8,4.2 M0,102.2 L4.2,98 M52,102.2 L47.8,98"/>
  <path d="M52,0 L-0.2,50.7 L52,102.2" stroke="#505050" stroke-width="0.6"/>
</g>
<g transform="translate(466.5,487.4)" class="fr">
  <rect x="0" y="0" width="52" height="102.2"/>
  <rect x="4.2" y="4.2" width="43.6" height="93.8"/>
  <path d="M0,0 L4.2,4.2 M52,0 L47.8,4.2 M0,102.2 L4.2,98 M52,102.2 L47.8,98"/>
  <path d="M52,0 L-0.2,50.7 L52,102.2" stroke="#505050" stroke-width="0.6"/>
</g>
<g transform="translate(466.4,718.6)" class="fr">
  <rect x="0" y="0" width="52" height="102.2"/>
  <rect x="4.2" y="4.2" width="43.6" height="93.8"/>
  <path d="M0,0 L4.2,4.2 M52,0 L47.8,4.2 M0,102.2 L4.2,98 M52,102.2 L47.8,98"/>
  <path d="M52,0 L-0.2,50.7 L52,102.2" stroke="#505050" stroke-width="0.6"/>
</g>
<!-- labels frame 1 -->
<g class="ld">
  <path d="M497.8,298 L472.2,298 L491.5,321"/>
  <path d="M437,360.6 L463.3,360.6 L468.1,376.3"/>
  <path d="M550,360.6 L525,360.6 L515,376.8"/>
  <path d="M461.8,441.5 L488.6,441.5 L493.8,417.5"/>
  <path d="M508.7,468.6 L472.1,468.6 L473.4,490.4"/>
  <path d="M427,530 L463.2,530 L468.1,545.7"/>
  <path d="M560,530 L524.5,530 L515,546.2"/>
  <path d="M452,611 L488.6,611 L493.5,587.5"/>
  <path d="M497.9,699.4 L472.1,699.4 L473.3,721.8"/>
  <path d="M437,761 L464.6,761 L468.7,777.6"/>
  <path d="M550,761 L524.6,761 L515.5,777.6"/>
  <path d="M452,842.3 L489,842.3 L493.5,818.3"/>
</g>
<g class="t" font-size="6.2">
  <text x="474.1" y="296.8" textLength="23.7" lengthAdjust="spacingAndGlyphs">Standard</text>
  <text x="477.8" y="305.2" textLength="16.6" lengthAdjust="spacingAndGlyphs">profile</text>
  <text x="437.2" y="359.5" textLength="24.2" lengthAdjust="spacingAndGlyphs">Standard</text>
  <text x="441" y="367.9" textLength="16.6" lengthAdjust="spacingAndGlyphs">profile</text>
  <text x="526.2" y="359.5" textLength="23.7" lengthAdjust="spacingAndGlyphs">Standard</text>
  <text x="529.5" y="367.9" textLength="16.6" lengthAdjust="spacingAndGlyphs">profile</text>
  <text x="462.3" y="440.6" textLength="23.5" lengthAdjust="spacingAndGlyphs">Standard</text>
  <text x="466" y="449.2" textLength="16.4" lengthAdjust="spacingAndGlyphs">profile</text>

  <text x="474.3" y="467.1" textLength="33.3" lengthAdjust="spacingAndGlyphs">Anti bi-metal</text>
  <text x="483.1" y="475.4" textLength="16.4" lengthAdjust="spacingAndGlyphs">profile</text>
  <text x="427" y="528.9" textLength="33.5" lengthAdjust="spacingAndGlyphs">Anti bi-metal</text>
  <text x="435.5" y="537.3" textLength="16.6" lengthAdjust="spacingAndGlyphs">profile</text>
  <text x="525.8" y="528.9" textLength="33.3" lengthAdjust="spacingAndGlyphs">Anti bi-metal</text>
  <text x="534.2" y="537.3" textLength="16.6" lengthAdjust="spacingAndGlyphs">profile</text>
  <text x="452.4" y="610" textLength="33.4" lengthAdjust="spacingAndGlyphs">Anti bi-metal</text>
  <text x="461.1" y="618.5" textLength="16.6" lengthAdjust="spacingAndGlyphs">profile</text>

  <text x="443.4" y="684.9" textLength="76.3" lengthAdjust="spacingAndGlyphs">No combinations are allowed!</text>

  <text x="474.1" y="697.8" textLength="23.8" lengthAdjust="spacingAndGlyphs">Standard</text>
  <text x="478" y="706.9" textLength="16.8" lengthAdjust="spacingAndGlyphs">profile</text>
  <text x="437.1" y="759.7" textLength="24.4" lengthAdjust="spacingAndGlyphs">Standard</text>
  <text x="440.6" y="768.5" textLength="16.9" lengthAdjust="spacing">profile</text>
  <text x="525.6" y="759.7" textLength="24.4" lengthAdjust="spacingAndGlyphs">Standard</text>
  <text x="529" y="768.5" textLength="17" lengthAdjust="spacing">profile</text>
  <text x="452" y="841.3" textLength="33.3" lengthAdjust="spacingAndGlyphs">Anti bi-metal</text>
  <text x="461" y="849.9" textLength="16.8" lengthAdjust="spacingAndGlyphs">profile</text>
</g>
<!-- big X -->
<path d="M461.1,719.7 L526,824.4 M525.3,719.7 L458.5,825" stroke="#1a1a1a" stroke-width="1.5" fill="none"/>
<g transform="translate(466.2,636.3)">
  <rect x="0.5" y="0.5" width="41" height="41" rx="4.5" fill="#fff" stroke="#222" stroke-width="1"/>
  <path d="M41.5,5 L41.5,37 Q41.5,41.5 37,41.5 L5,41.5" fill="none" stroke="#111" stroke-width="1.6"/>
  <path d="M20.6,6.9 L37.1,34.3 L4.1,34.3 Z" fill="none" stroke="#111" stroke-width="2.5" stroke-linejoin="round"/>
  <path d="M19.1,14.6 Q20.6,12.9 22.1,14.6 L21.5,26.9 Q20.6,27.6 19.7,26.9 Z" fill="#111"/>
  <circle cx="20.6" cy="30.1" r="1.35" fill="#111"/>
</g>
<!-- check marks -->
<path d="M386,355 L390.3,365 C393.2,359 397.2,354 402.2,351" stroke="#000" stroke-width="3.2" fill="none" stroke-linecap="round" stroke-linejoin="round"/>
<path d="M386,529.5 L390.3,539.5 C393.2,533.5 397.2,528.5 402.2,525.5" stroke="#000" stroke-width="3.2" fill="none" stroke-linecap="round" stroke-linejoin="round"/>
<path d="M387,764 Q387,768 390,770.5 L395.5,775.5 M396.6,764.6 L385,776.2" stroke="#000" stroke-width="3.1" fill="none" stroke-linecap="round"/>

<!-- FOOTER -->
<text x="43" y="883.7" font-size="7.5" fill="#8e8e8e" textLength="28" lengthAdjust="spacingAndGlyphs">02.04.06</text>
<text x="407" y="885.3" font-size="8" font-weight="bold" fill="#767678" stroke="#767678" stroke-width="0.2" textLength="75.6" lengthAdjust="spacingAndGlyphs">ALUTECH ALT&#8202;W72 D</text>
<text x="486" y="885.3" font-size="8" fill="#a0a0a2" textLength="97.7" lengthAdjust="spacingAndGlyphs">| Insulated doors | 27.03.2023</text>

</svg>
</body></html>
